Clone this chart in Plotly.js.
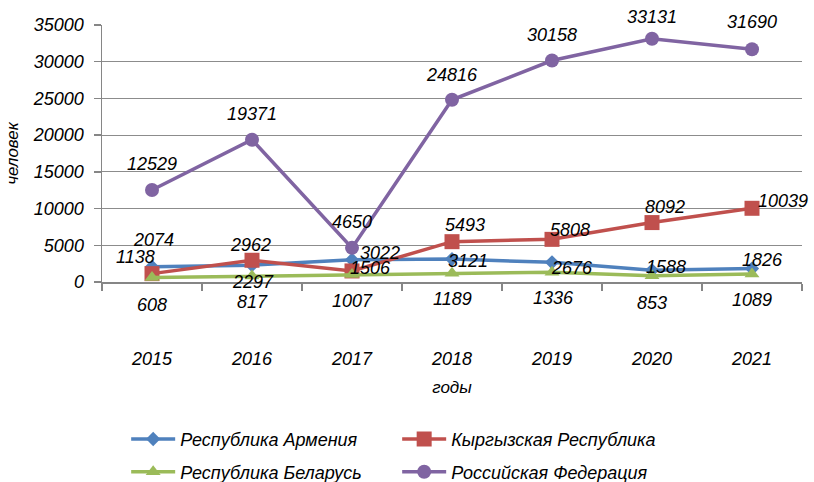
<!DOCTYPE html>
<html>
<head>
<meta charset="utf-8">
<script src="https://cdn.plot.ly/plotly-3.0.1.min.js"></script>
<style>html,body{margin:0;padding:0;background:#fff;}#chart{width:814px;height:482px;}</style>
</head>
<body>
<div id="chart"></div>
<script>
// ---- data ----
const years = ['2015', '2016', '2017', '2018', '2019', '2020', '2021'];
const armenia = [2074, 2297, 3022, 3121, 2676, 1588, 1826];
const kyrgyz = [1138, 2962, 1506, 5493, 5808, 8092, 10039];
const belarus = [608, 817, 1007, 1189, 1336, 853, 1089];
const russia = [12529, 19371, 4650, 24816, 30158, 33131, 31690];
const seriesNames = ['Республика Армения', 'Кыргызская Республика', 'Республика Беларусь', 'Российская Федерация'];
const yTickVals = [0, 5000, 10000, 15000, 20000, 25000, 30000, 35000];

// ---- style ----
const FONT = 'Liberation Sans, Arial, sans-serif';
const colors = ['#4F81BD', '#C0504D', '#9BBB59', '#8064A2'];
const symbols = ['diamond', 'square', 'triangle-up', 'circle'];
const msizes = [11, 15, 13, 14];
// label offsets (px) relative to each point: [dx, dy-up]
const labelShift = [
  [[1,27],[1,-17],[28,7],[16,-2],[20,-6],[14,3],[10,9]],
  [[-17,17],[-2,15],[18,3],[13,17],[18,9],[13,16],[31,7]],
  [[0,-27],[0,-26],[0,-26],[0,-26],[1,-26],[0,-27],[0,-26]],
  [[0,26],[0,26],[0,26],[0,25],[0,26],[0,22],[0,27]]
];
const allSeries = [armenia, kyrgyz, belarus, russia];
const legendOf = ['legend', 'legend', 'legend2', 'legend2'];

const traces = allSeries.map((vals, i) => ({
  type: 'scatter', mode: 'lines+markers', x: years, y: vals, name: seriesNames[i],
  line: {color: colors[i], width: 3.5},
  marker: {symbol: symbols[i], size: msizes[i], color: colors[i], line: {width: 0}},
  legend: legendOf[i], cliponaxis: false
}));

const annotations = [];
allSeries.forEach((vals, i) => {
  vals.forEach((v, j) => {
    annotations.push({
      x: j, y: v, xref: 'x', yref: 'y', text: String(v), showarrow: false,
      xshift: labelShift[i][j][0], yshift: labelShift[i][j][1],
      font: {family: FONT, size: 18, color: '#000', style: 'italic'}
    });
  });
});

const legendBase = {
  orientation: 'h', xref: 'container', yref: 'container', xanchor: 'left', yanchor: 'top',
  font: {family: FONT, size: 18, color: '#000', style: 'italic'},
  bgcolor: 'rgba(0,0,0,0)', itemwidth: 44, entrywidth: 212, entrywidthmode: 'pixels'
};

const layout = {
  width: 814, height: 482,
  margin: {l: 102, r: 12, t: 25, b: 200},
  paper_bgcolor: '#fff', plot_bgcolor: '#fff',
  font: {family: FONT, size: 18, color: '#000', style: 'italic'},
  showlegend: true,
  xaxis: {
    type: 'category', range: [-0.5, 6.5], tickson: 'boundaries', automargin: false,
    ticks: 'outside', ticklen: 7, tickcolor: '#868686', tickwidth: 1.5,
    showline: true, linecolor: '#868686', linewidth: 1.5, tickangle: 0,
    showgrid: false, zeroline: false, ticklabelstandoff: 60,
    tickfont: {family: FONT, size: 18, color: '#000', style: 'italic'},
    title: {text: 'годы', standoff: 13, font: {family: FONT, size: 17, color: '#000', style: 'italic'}}
  },
  yaxis: {
    range: [0, 35000], tickvals: yTickVals, ticktext: yTickVals.map(String), automargin: false,
    ticks: 'outside', ticklen: 7, tickcolor: '#868686', tickwidth: 1.5,
    showline: true, linecolor: '#868686', linewidth: 1.5,
    showgrid: true, gridcolor: '#8C8C8C', gridwidth: 1, zeroline: false,
    ticklabelstandoff: 6,
    tickfont: {family: FONT, size: 18, color: '#000', style: 'italic'},
    title: {text: 'человек', standoff: 10, font: {family: FONT, size: 17, color: '#000', style: 'italic'}}
  },
  legend: Object.assign({}, legendBase, {x: 0.155, y: 0.127}),
  legend2: Object.assign({}, legendBase, {x: 0.155, y: 0.059}),
  annotations: annotations
};

Plotly.newPlot('chart', traces, layout, {displayModeBar: false, staticPlot: true});
</script>
</body>
</html>
